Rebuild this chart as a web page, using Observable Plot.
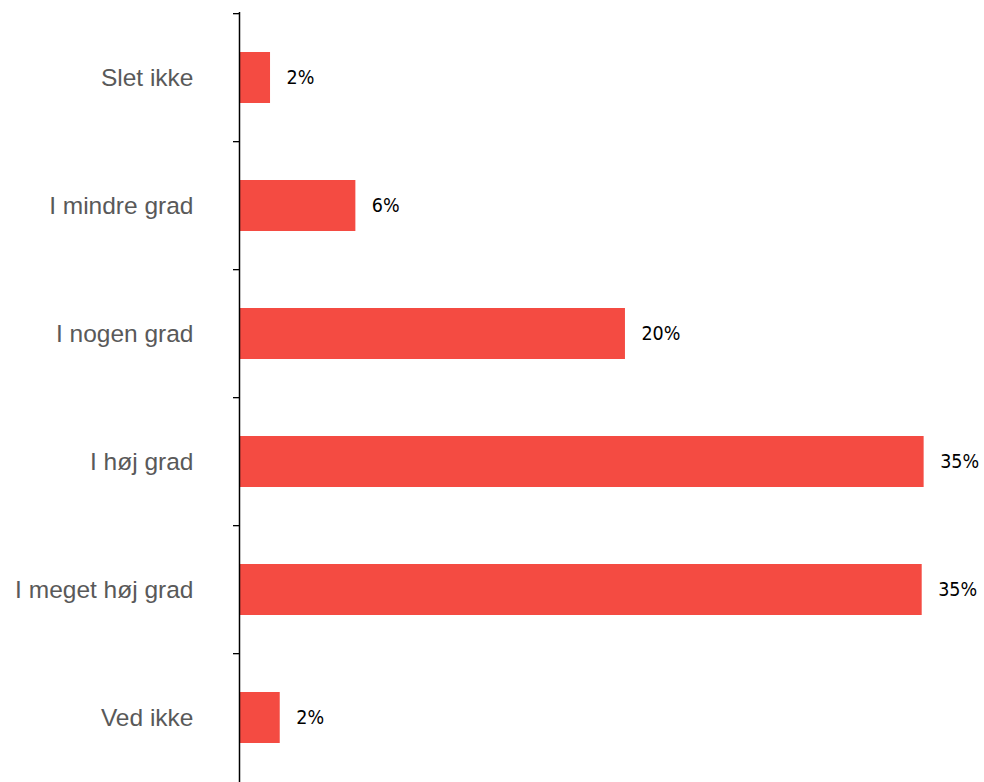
<!DOCTYPE html>
<html>
<head>
<meta charset="utf-8">
<script src="https://cdn.jsdelivr.net/npm/d3@7"></script>
<script src="https://cdn.jsdelivr.net/npm/@observablehq/plot@0.6"></script>
<style>
  html, body { margin: 0; padding: 0; background: #fff; }
  #chart { width: 984px; height: 782px; overflow: hidden; }
</style>
</head>
<body>
<div id="chart"></div>
<script>
const categories = ["Slet ikke", "I mindre grad", "I nogen grad", "I høj grad", "I meget høj grad", "Ved ikke"];
const values = [1.6, 6.0, 19.9, 35.3, 35.2, 2.1];
const valueLabels = ["2%", "6%", "20%", "35%", "35%", "2%"];

const data = categories.map((c, i) => ({category: c, value: values[i], label: valueLabels[i]}));

const W = 984, H = 782, mTop = 12, mBottom = -2;
const halfStep = (H - mBottom - mTop) / categories.length / 2;

const chart = Plot.plot({
  width: W,
  height: H,
  marginLeft: 239,
  marginRight: 8,
  marginTop: mTop,
  marginBottom: mBottom,
  style: {fontFamily: "'Liberation Sans', Arial, sans-serif", background: "white", overflow: "visible"},
  x: {domain: [0, 38], axis: null},
  y: {domain: categories, paddingInner: 0.6, paddingOuter: 0.3, axis: null},
  marks: [
    Plot.barX(data, {x: "value", y: "category", fill: "#f44b42"}),
    Plot.text(data, {x: "value", y: "category", text: "label", dx: 16, textAnchor: "start",
      fontSize: 19.5, fill: "#000", fontFamily: "'Liberation Sans Narrow', 'DejaVu Sans Condensed', 'Liberation Sans', sans-serif"}),
    Plot.axisY({tickSize: 6, tickFormat: () => "", label: null, dy: -halfStep, stroke: "#000", strokeWidth: 1.3}),
    Plot.axisY({tickSize: 0, tickPadding: 46, fontSize: 24.5, label: null, color: "#595959"}),
    Plot.ruleX([0], {stroke: "#000", strokeWidth: 1.5})
  ]
});
document.getElementById("chart").appendChild(chart);
</script>
</body>
</html>
